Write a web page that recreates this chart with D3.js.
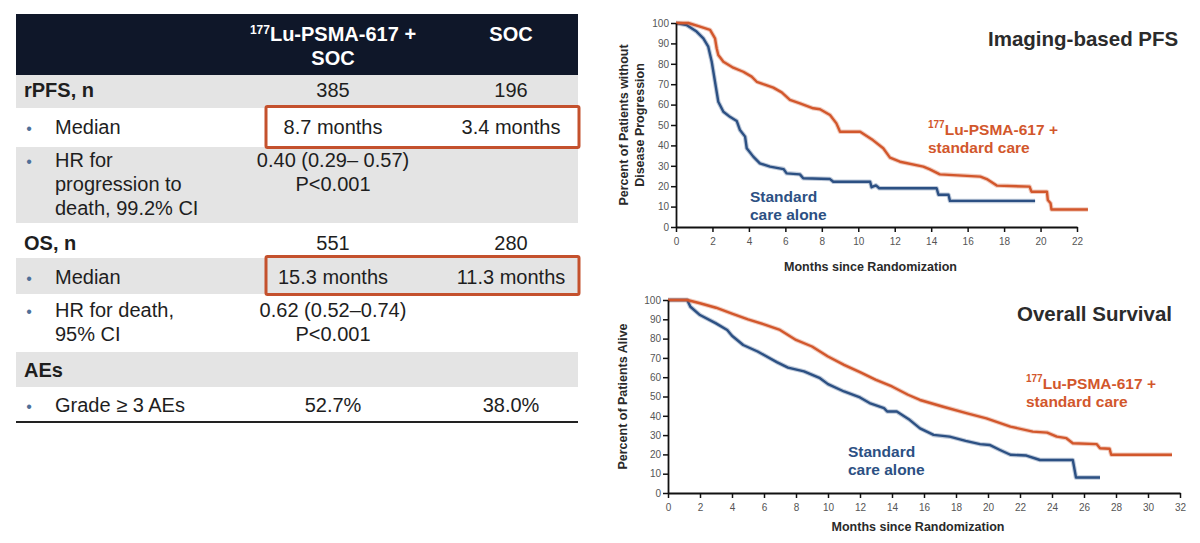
<!DOCTYPE html>
<html><head><meta charset="utf-8">
<script src="https://cdn.jsdelivr.net/npm/d3@7"></script>
<style>body{margin:0;background:#fff} svg{display:block;font-family:"Liberation Sans",Arial,sans-serif}</style>
</head><body><svg id="c" width="1200" height="543"></svg>
<script>
// ---------- DATA ----------
const colHeaders = [["177|Lu-PSMA-617 +", "SOC"], ["SOC"]];
const rowLabels = [["rPFS, n"], ["Median"], ["HR for", "progression to", "death, 99.2% CI"], ["OS, n"], ["Median"], ["HR for death,", "95% CI"], ["AEs"], ["Grade ≥ 3 AEs"]];
const rowIsSub = [false, true, true, false, true, true, false, true];
const lutValues = [["385"], ["8.7 months"], ["0.40 (0.29– 0.57)", "P<0.001"], ["551"], ["15.3 months"], ["0.62 (0.52–0.74)", "P<0.001"], [], ["52.7%"]];
const socValues = [["196"], ["3.4 months"], [], ["280"], ["11.3 months"], [], [], ["38.0%"]];
const highlightedRows = [1, 4];

const pfsLu = [[0,100],[0.67,100],[1.32,98.2],[1.87,96.6],[2.14,92.5],[2.23,87.6],[2.32,84.3],[2.6,81],[3.14,78.1],[3.69,76.1],[4.15,73.7],[4.43,71.2],[4.79,70],[5.34,68.3],[5.8,66],[6.25,62.3],[6.8,60.6],[7.53,58.2],[7.9,57.7],[8.45,54.9],[8.8,50.8],[9.0,46.7],[10.1,46.7],[10.8,42.6],[11.37,38.6],[11.74,34],[12.29,32],[13.57,29.6],[13.9,28.4],[14.48,25.8],[16.7,24.7],[17.05,23.5],[17.6,20.3],[19.4,19.8],[19.5,17.3],[20.35,17.3],[20.4,13.2],[20.55,11.6],[20.6,8.6],[22.6,8.6]];
const pfsSoc = [[0,100],[0.58,99],[1.13,95.8],[1.5,92.5],[1.77,88.4],[1.96,81],[2.14,71.2],[2.32,61.4],[2.6,56.5],[2.96,54],[3.33,52],[3.51,47.5],[3.79,44.3],[3.88,38.6],[4.24,34.5],[4.6,31.2],[5.16,29.6],[5.9,28.4],[6.07,26.3],[6.8,25.8],[6.98,23.9],[8.45,23.5],[8.63,22.2],[10.65,22.2],[10.73,19.5],[10.97,20.4],[11.15,19],[14.3,19],[14.4,15.8],[14.95,15.8],[15.03,12.8],[19.7,12.8]];
const osLu = [[0,100],[1.2,100],[2,98.3],[3,96],[4,93],[5,90],[6,87.4],[7,84.5],[8,79.3],[9,75.9],[10,70.7],[11,66.4],[12,62.6],[13,58.6],[14,55.2],[15,50.9],[15.75,48.2],[17.2,44.7],[18.7,41.3],[19.9,38.7],[21.4,34.4],[22.8,31.8],[23.7,31.3],[24.3,29.2],[24.9,28.4],[25.3,25.8],[26.8,25.3],[27.0,23.2],[27.6,22.9],[27.7,19.8],[31.5,19.8]];
const osSoc = [[0,100],[1.2,100],[1.4,96.5],[2,92.2],[3,87.9],[3.7,84.5],[4,81.5],[4.7,76.7],[5.6,73.3],[6,71.5],[6.8,67.8],[7.5,65],[8.5,63],[9.5,59.5],[10,56.4],[11,52.6],[12,49.5],[12.6,46.6],[13.5,44],[13.7,42.2],[14.3,42.2],[15.1,37.9],[15.75,33.5],[16.6,30.1],[17.6,29.2],[18.6,27],[19.5,25.3],[20.1,24.9],[20.75,22.3],[21.4,19.8],[22.4,19.4],[23.25,17.1],[25.3,17.1],[25.5,8],[27,8]];

const yTicks = [0,10,20,30,40,50,60,70,80,90,100];
const pfsXTicks = [0,2,4,6,8,10,12,14,16,18,20,22];
const osXTicks = [0,2,4,6,8,10,12,14,16,18,20,22,24,26,28,30,32];

const pfsTitle = "Imaging-based PFS";
const osTitle = "Overall Survival";
const xTitle = "Months since Randomization";
const pfsYTitle = ["Percent of Patients without", "Disease Progression"];
const osYTitle = "Percent of Patients Alive";
const luLegend = ["177|Lu-PSMA-617 +", "standard care"];
const socLegend = ["Standard", "care alone"];

// ---------- STYLE ----------
const ORANGE = "#d2572c", BLUE = "#2c5083", NAVY = "#0f1729", GRAY = "#e4e4e4", RED = "#c4512d";
const svg = d3.select("#c");

function supText(sel, str, supSize) {
  const parts = str.split("|");
  if (parts.length === 2) {
    sel.append("tspan").attr("font-size", supSize).attr("dy", -7).text(parts[0]);
    sel.append("tspan").attr("dy", 7).text(parts[1]);
  } else sel.text(str);
}

// ---------- TABLE ----------
const tableL = 16, tableR = 578;
const rowTop = [75,108,147,223,258,294,352,387];
const rowH = [33,39,76,35,36,58,35,35];
const rowBase = [97,134,167,250,284,317,377,412];
const lineGap = 24;
const colX = [333, 511];

svg.append("rect").attr("x", tableL).attr("y", 14).attr("width", tableR - tableL).attr("height", 61).attr("fill", NAVY);
colHeaders.forEach((lines, ci) => {
  lines.forEach((ln, li) => {
    const t = svg.append("text").attr("x", colX[ci]).attr("y", 41 + li * 24)
      .attr("text-anchor", "middle").attr("font-size", 20).attr("font-weight", "bold").attr("fill", "#fff");
    supText(t, ln, 12);
  });
});

rowLabels.forEach((lines, ri) => {
  if (ri % 2 === 0) svg.append("rect").attr("x", tableL).attr("y", rowTop[ri]).attr("width", tableR - tableL).attr("height", rowH[ri]).attr("fill", GRAY);
});
rowLabels.forEach((lines, ri) => {
  const sub = rowIsSub[ri];
  if (sub) svg.append("text").attr("x", 29).attr("y", rowBase[ri]).attr("text-anchor", "middle")
    .attr("font-size", 16).attr("fill", "#4f6f98").text("•");
  lines.forEach((ln, li) => {
    svg.append("text").attr("x", sub ? 55 : 24).attr("y", rowBase[ri] + li * lineGap)
      .attr("font-size", 20).attr("font-weight", sub ? "normal" : "bold").attr("fill", "#1e1e1e").text(ln);
  });
  [lutValues[ri], socValues[ri]].forEach((vals, ci) => {
    vals.forEach((v, li) => {
      svg.append("text").attr("x", colX[ci]).attr("y", rowBase[ri] + li * lineGap)
        .attr("text-anchor", "middle").attr("font-size", 20).attr("fill", "#1e1e1e").text(v);
    });
  });
});
svg.append("line").attr("x1", tableL).attr("x2", tableR).attr("y1", 422).attr("y2", 422).attr("stroke", "#222").attr("stroke-width", 2);
highlightedRows.forEach(ri => {
  svg.append("rect").attr("x", 266).attr("y", rowTop[ri] - 1.5).attr("width", 313).attr("height", rowH[ri] + 2)
    .attr("fill", "none").attr("stroke", RED).attr("stroke-width", 3).attr("rx", 1.5);
});

// ---------- KM CHARTS ----------
function km(cfg) {
  const x = d3.scaleLinear().domain(cfg.xd).range(cfg.xr);
  const y = d3.scaleLinear().domain([0, 100]).range(cfg.yr);
  const g = svg.append("g");
  const line = d3.line().x(d => x(d[0])).y(d => y(d[1])).curve(d3.curveLinear);
  [[cfg.soc, BLUE], [cfg.lu, ORANGE]].forEach(([data, col]) => {
    g.append("path").datum(data).attr("d", line).attr("fill", "none").attr("stroke", col)
      .attr("stroke-opacity", 0.3).attr("stroke-width", 4.5).attr("stroke-linejoin", "round");
    g.append("path").datum(data).attr("d", line).attr("fill", "none").attr("stroke", col)
      .attr("stroke-width", 2.4).attr("stroke-linejoin", "round");
  });
  const ya = g.append("g").attr("transform", `translate(${cfg.xr[0]},0)`)
    .call(d3.axisLeft(y).tickValues(yTicks).tickSize(5).tickSizeOuter(0).tickPadding(2));
  const xa = g.append("g").attr("transform", `translate(0,${cfg.yr[0]})`)
    .call(d3.axisBottom(x).tickValues(cfg.xt).tickSize(5).tickSizeOuter(0).tickPadding(6));
  [ya, xa].forEach(a => {
    a.select(".domain").attr("stroke", "#111").attr("stroke-width", 1.8);
    a.selectAll(".tick line").attr("stroke", "#111").attr("stroke-width", 1.5);
    a.selectAll(".tick text").attr("font-size", 10).attr("fill", "#555").attr("font-family", "Liberation Sans, Arial, sans-serif");
  });
  // x title
  g.append("text").attr("x", (cfg.xr[0] + cfg.xr[1]) / 2 - 6).attr("y", cfg.xTitleY).attr("text-anchor", "middle")
    .attr("font-size", 12.5).attr("font-weight", "bold").attr("fill", "#2a2a2a").text(xTitle);
  // y title
  const cy = (cfg.yr[0] + cfg.yr[1]) / 2;
  cfg.yTitle.forEach((ln, i) => {
    g.append("text").attr("transform", `translate(${cfg.yTitleX + i * 16},${cy}) rotate(-90)`)
      .attr("text-anchor", "middle").attr("font-size", 12.5).attr("font-weight", "bold").attr("fill", "#2a2a2a").text(ln);
  });
  // chart title
  g.append("text").attr("x", cfg.titleX).attr("y", cfg.titleY).attr("font-size", 20.5).attr("font-weight", "bold")
    .attr("fill", "#2b2b2b").text(cfg.title);
  // legends
  luLegend.forEach((ln, i) => {
    const t = g.append("text").attr("x", cfg.luX).attr("y", cfg.luY + i * 18).attr("font-size", 15.5)
      .attr("font-weight", "bold").attr("fill", ORANGE);
    supText(t, ln, 10);
  });
  socLegend.forEach((ln, i) => {
    g.append("text").attr("x", cfg.socX).attr("y", cfg.socY + i * 18).attr("font-size", 15.5)
      .attr("font-weight", "bold").attr("fill", BLUE).text(ln);
  });
}

km({ xd: [0, 22], xr: [676, 1077], yr: [227, 23], xt: pfsXTicks, lu: pfsLu, soc: pfsSoc,
     xTitleY: 271, yTitle: pfsYTitle, yTitleX: 628, title: pfsTitle, titleX: 988, titleY: 46,
     luX: 928, luY: 135, socX: 750, socY: 202 });
km({ xd: [0, 32], xr: [668, 1180], yr: [493, 300], xt: osXTicks, lu: osLu, soc: osSoc,
     xTitleY: 531, yTitle: [osYTitle], yTitleX: 627, title: osTitle, titleX: 1017, titleY: 321,
     luX: 1026, luY: 389, socX: 848, socY: 457 });
</script></body></html>
